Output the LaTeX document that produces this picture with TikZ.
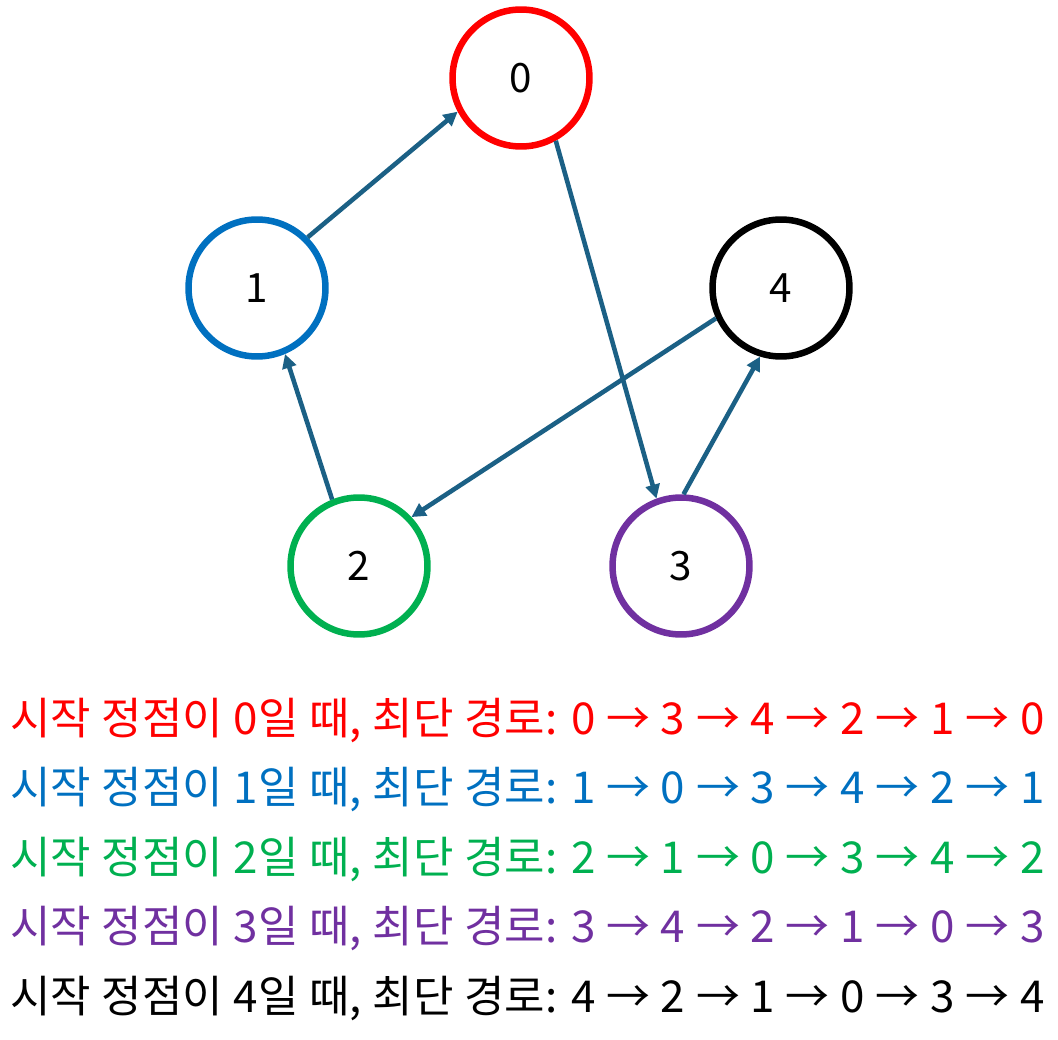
\documentclass[tikz,border=0pt]{standalone}
\usepackage{fontspec}
\setmainfont[WordSpace=1.09]{Noto Sans CJK KR}
\usepackage{xcolor}
\definecolor{colorZero}{RGB}{255,0,0}
\definecolor{colorOne}{RGB}{0,112,192}
\definecolor{colorTwo}{RGB}{0,176,80}
\definecolor{colorThree}{RGB}{112,48,160}
\colorlet{colorFour}{black}
\definecolor{colorEdge}{RGB}{27,96,133}
\usetikzlibrary{arrows.meta, positioning}
\tikzset{vertex/.style={circle, draw, line width=3.7pt, minimum size=2.74cm, text=black, font=\fontsize{23}{23}\selectfont}}

\begin{document}
\begin{tikzpicture}[x=0.02cm, y=-0.02cm, >={Triangle[length=8pt, width=8pt]}, link/.style={->, colorEdge, line width=2.6pt}, path/.style={anchor=base west, inner sep=0pt, font=\fontsize{25}{25}\selectfont}]
\useasboundingbox (0,0) rectangle (1058,1040);
\node[vertex, draw=colorZero] (v0) at (521,78) {0};
\node[vertex, draw=colorOne] (v1) at (257,288) {1};
\node[vertex, draw=colorFour] (v4) at (781,288) {4};
\node[vertex, draw=colorTwo] (v2) at (359,566) {2};
\node[vertex, draw=colorThree] (v3) at (681,566) {3};
\draw [link] (v1.45) -- (v0.208);
\draw [link] (v0.299) -- (v3.110);
\draw [link] (v3.88) -- (v4.253);
\draw [link] (v4.205) -- (v2.43);
\draw [link] (v2.112) -- (v1.293.5);
\node[path, text=colorZero] (p0) at (10,734) {시작 정점이 0일 때, 최단 경로: 0 → 3 → 4 → 2 → 1 → 0};
\node[path, text=colorOne] (p1) at (10,803.5) {시작 정점이 1일 때, 최단 경로: 1 → 0 → 3 → 4 → 2 → 1};
\node[path, text=colorTwo] (p2) at (10,873) {시작 정점이 2일 때, 최단 경로: 2 → 1 → 0 → 3 → 4 → 2};
\node[path, text=colorThree] (p3) at (10,942.5) {시작 정점이 3일 때, 최단 경로: 3 → 4 → 2 → 1 → 0 → 3};
\node[path, text=colorFour] (p4) at (10,1012) {시작 정점이 4일 때, 최단 경로: 4 → 2 → 1 → 0 → 3 → 4};
\end{tikzpicture}
\end{document}
